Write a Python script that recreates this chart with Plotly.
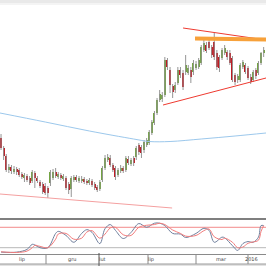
import plotly.graph_objects as go

# ---------------- data ----------------
idx = list(range(102))
open_ = [72,62,54,40,43,38,41,40,36,32,34,32,29,37,32,28,26,24,22,27,32,38,33,35,31,32,26,21,30,33,
         29,29,31,29,27,29,26,23,21,30,42,50,52,45,42,35,39,42,40,51,46,52,53,65,63,60,65,67,77,87,
         97,110,111,115,150,140,124,120,127,140,137,138,137,140,138,142,143,147,160,165,168,163,168,157,153,152,157,158,157,152,
         135,130,130,143,145,142,133,130,140,137,147,157]
close = [62,54,40,43,39,41,38,35,33,35,30,27,38,32,29,24,18,17,17,38,38,34,36,32,34,22,20,32,33,30,
         32,31,28,27,30,25,22,20,28,42,52,53,45,40,33,40,42,39,52,47,50,47,62,58,57,68,70,78,88,97,
         110,116,115,150,143,125,118,125,140,135,123,145,142,133,147,146,150,163,167,159,162,155,153,143,142,160,162,153,147,130,
         128,134,145,148,138,132,128,138,134,147,157,160]
high = [76,64,56,46,45,44,43,42,38,37,36,34,40,39,34,30,28,27,24,40,41,42,38,37,36,34,28,34,35,35,
        34,34,33,31,32,31,28,25,30,44,55,56,55,47,44,42,45,44,54,54,52,54,64,67,65,70,72,80,90,99,
        112,120,118,153,152,143,126,128,143,143,140,155,145,143,150,149,152,165,173,168,171,165,177,160,155,162,165,160,160,154,
        137,136,147,150,147,144,136,140,142,149,158,163]
low = [60,50,38,37,36,36,35,33,31,28,28,25,27,22,27,22,16,15,12,24,30,32,31,30,29,20,16,13,28,28,
       27,27,26,25,25,23,20,18,19,28,40,48,43,38,30,33,37,37,38,45,44,44,50,55,52,57,63,65,75,85,
       95,108,108,113,140,117,112,117,125,132,120,135,135,127,135,140,141,145,158,157,160,152,150,140,138,150,155,150,145,128,
       125,127,128,141,136,130,126,128,131,135,145,153]

ma_idx = [-0.4, 17, 34, 51, 57, 65, 77, 90, 101.9]
ma_val = [97, 88, 79, 71, 68.5, 68.5, 71, 74, 77]

trend1_idx = [-0.4, 65.8]; trend1_val = [16, 2]          # pale lower support
trend2_idx = [62.3, 101.9]; trend2_val = [105, 132]      # rising triangle side
trend3_idx = [70, 101.9];   trend3_val = [182, 170]      # falling triangle side
level_idx = [74.6, 101.9];  level_val = [171.5, 170.5]   # orange resistance

osc_idx = [0,6,10,12,13,15,18,21,22,25,28,31,33,35,38,40,42,44,47,50,53,56,59,61,63,66,69,71,75,78,80,82,85,86,89,91,93,95,97,99,100,101]
k_val = [7,7,15,30,28,20,20,62,68,56,36,62,73,65,32,76,88,71,47,65,91,80,92,92,85,62,60,50,62,77,71,36,51,49,26,12,32,38,36,51,85,85]
d_val = [8,6,10,20,27,24,20,45,60,62,45,48,66,70,48,60,78,80,58,56,80,86,88,92,88,72,62,54,56,70,75,52,44,48,36,20,22,33,37,42,68,85]
osc_levels = [80, 20]

axis_labels = ["lip", "gru", "lut", "lip", "mar", "2016"]
axis_label_px = [22, 72, 102, 151, 221, 251]
sep_px = [46, 99, 148, 196, 248]

# ---------------- figure ----------------
W = H = 266
def py(p):  # pixel row -> paper y
    return 1 - p / H

GREEN = "#72a53e"
RED = "#c3161f"
xr = [-0.4, 101.9]

fig = go.Figure()

# wicks
wx, wy = [], []
for i, h, l in zip(idx, high, low):
    wx += [i, i, None]
    wy += [l, h, None]
fig.add_trace(go.Scatter(x=wx, y=wy, mode="lines", line=dict(color="#959595", width=1),
                         hoverinfo="skip", showlegend=False))
# bodies
base = [min(o, c) for o, c in zip(open_, close)]
hgt = [max(abs(c - o), 1) for o, c in zip(open_, close)]
cols = [GREEN if c >= o else RED for o, c in zip(open_, close)]
fig.add_trace(go.Bar(x=idx, y=hgt, base=base, width=0.78,
                     marker=dict(color=cols, line=dict(width=0)), showlegend=False))

# moving average
fig.add_trace(go.Scatter(x=ma_idx, y=ma_val, mode="lines",
                         line=dict(color="#9cc8ec", width=1, shape="spline"), showlegend=False))
# trend lines
fig.add_trace(go.Scatter(x=trend1_idx, y=trend1_val, mode="lines", line=dict(color="#f4a0a0", width=1), showlegend=False))
fig.add_trace(go.Scatter(x=trend2_idx, y=trend2_val, mode="lines", line=dict(color="#ee3a30", width=1), showlegend=False))
fig.add_trace(go.Scatter(x=trend3_idx, y=trend3_val, mode="lines", line=dict(color="#ee3a30", width=1), showlegend=False))
fig.add_trace(go.Scatter(x=level_idx, y=level_val, mode="lines", line=dict(color="#f7a13a", width=4), showlegend=False))

# oscillator
for lv, c in zip(osc_levels, ["#f28a8a", "#b8b8b8"]):
    fig.add_trace(go.Scatter(x=xr, y=[lv, lv], mode="lines", xaxis="x2", yaxis="y2", showlegend=False,
                             line=dict(color=c, width=1)))
fig.add_trace(go.Scatter(x=osc_idx, y=k_val, mode="lines", xaxis="x2", yaxis="y2", showlegend=False,
                         line=dict(color="#6f7f9c", width=1, shape="spline")))
fig.add_trace(go.Scatter(x=osc_idx, y=d_val, mode="lines", xaxis="x2", yaxis="y2", showlegend=False,
                         line=dict(color="#f07c7c", width=1, shape="spline")))

shapes = []
# top gray band
shapes.append(dict(type="rect", xref="paper", yref="paper", x0=0, x1=1, y0=py(3), y1=1,
                   fillcolor="#e9e9e9", line=dict(width=0), layer="below"))
shapes.append(dict(type="rect", xref="paper", yref="paper", x0=0, x1=1, y0=py(5), y1=py(3),
                   fillcolor="#f4f4f4", line=dict(width=0), layer="below"))
# panel separator
shapes.append(dict(type="line", xref="paper", yref="paper", x0=0, x1=1, y0=py(219), y1=py(219),
                   line=dict(color="#555555", width=1.5)))
# axis band
shapes.append(dict(type="rect", xref="paper", yref="paper", x0=0, x1=1, y0=0, y1=py(264),
                   fillcolor="#e2e2e2", line=dict(width=0)))
shapes.append(dict(type="line", xref="paper", yref="paper", x0=0, x1=1, y0=py(254.5), y1=py(254.5),
                   line=dict(color="#8a8a8a", width=1)))
shapes.append(dict(type="line", xref="paper", yref="paper", x0=0, x1=1, y0=py(264), y1=py(264),
                   line=dict(color="#9a9a9a", width=1)))
for s in sep_px:
    dark = (s == 99)
    shapes.append(dict(type="line", xref="paper", yref="paper", x0=s / W, x1=s / W,
                       y0=0 if dark else py(264), y1=py(253) if dark else py(254.5),
                       line=dict(color="#555555" if dark else "#8a8a8a", width=1)))

annotations = [dict(x=px / W, y=py(259.3), xref="paper", yref="paper", text=t, showarrow=False,
                    font=dict(size=5, color="#444444", family="DejaVu Sans"),
                    xanchor="center", yanchor="middle")
               for t, px in zip(axis_labels, axis_label_px)]

fig.update_layout(
    width=W, height=H, margin=dict(l=0, r=0, t=0, b=0),
    paper_bgcolor="white", plot_bgcolor="white",
    showlegend=False, bargap=0,
    xaxis=dict(range=xr, visible=False, domain=[0, 1], anchor="y"),
    yaxis=dict(range=[-8, 206], visible=False, domain=[py(218), py(4)]),
    xaxis2=dict(range=xr, visible=False, domain=[0, 1], anchor="y2", matches="x"),
    yaxis2=dict(range=[0, 102.9], visible=False, domain=[py(254.5), py(219.5)]),
    shapes=shapes, annotations=annotations,
)

fig.write_html("out.html")
